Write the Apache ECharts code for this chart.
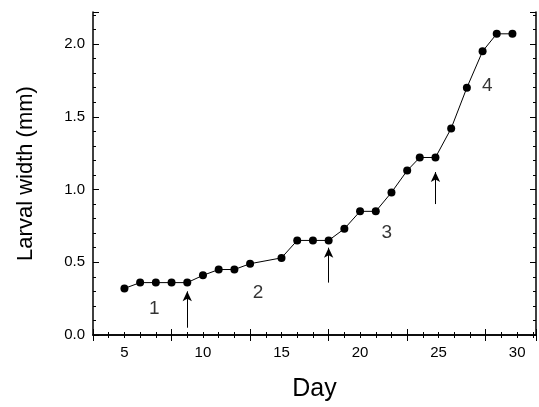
<!DOCTYPE html><html><head><meta charset="utf-8"><script src="https://cdn.jsdelivr.net/npm/echarts@6/dist/echarts.min.js"></script></head><body style="margin:0;background:#fff"><div id="c" style="width:539px;height:407px"></div><script>
const days=[5,6,7,8,9,10,11,12,13,15,16,17,18,19,20,21,22,23,23.8,24.8,25.8,26.8,27.8,28.7,29.7];
const widths=[0.32,0.36,0.36,0.36,0.36,0.41,0.45,0.45,0.49,0.53,0.65,0.65,0.65,0.73,0.85,0.85,0.98,1.13,1.22,1.22,1.42,1.70,1.95,2.07,2.07];
const arrows=[[9,0.05,0.30],[18,0.36,0.60],[24.8,0.90,1.12]];
const stageLabels=[["1",6.9,0.18],["2",13.5,0.29],["3",21.7,0.70],["4",28.1,1.71]];
const ch=echarts.init(document.getElementById('c'));
const lab={color:'#000',fontSize:15,fontFamily:'Arial'};
const ax={axisLine:{lineStyle:{color:'#000',width:1.5}},axisTick:{inside:true,length:6,lineStyle:{color:'#000'}},minorTick:{show:true,splitNumber:5,length:3,lineStyle:{color:'#000'}},splitLine:{show:false}};
ch.setOption({animation:false,grid:{left:93,right:3,top:12,bottom:68},
xAxis:[Object.assign({},ax,{type:'value',min:3,max:31.2,interval:5,name:'Day',nameLocation:'middle',nameGap:42,nameTextStyle:{fontSize:25,fontFamily:'Arial',color:'#000'},axisLabel:Object.assign({customValues:[5,10,15,20,25,30],margin:10},lab)}),
 Object.assign({},ax,{type:'value',position:'top',min:3,max:31.2,interval:5,axisLabel:{show:false}})],
yAxis:[Object.assign({},ax,{type:'value',min:0,max:2.22,interval:0.5,name:'Larval width (mm)',nameLocation:'middle',nameGap:56,nameTextStyle:{fontSize:22,fontFamily:'Arial',color:'#000'},axisLabel:Object.assign({formatter:v=>v.toFixed(1),showMaxLabel:false},lab)}),
 Object.assign({},ax,{type:'value',position:'right',min:0,max:2.22,interval:0.5,axisLabel:{show:false}})],
series:[{type:'line',data:days.map((d,i)=>[d,widths[i]]),symbol:'circle',symbolSize:8,itemStyle:{color:'#000'},lineStyle:{color:'#000',width:1},
 markLine:{silent:true,symbol:['none','arrow'],symbolSize:[7,10],label:{show:false},lineStyle:{color:'#000',width:1,type:'solid'},data:arrows.map(a=>[{coord:[a[0],a[1]]},{coord:[a[0],a[2]]}])}},
 {type:'scatter',symbolSize:0,label:{show:true,position:'inside',fontSize:19,fontFamily:'Arial',color:'#000'},data:stageLabels.map(s=>({value:[s[1],s[2]],label:{formatter:s[0]}}))}]});
</script></body></html>
